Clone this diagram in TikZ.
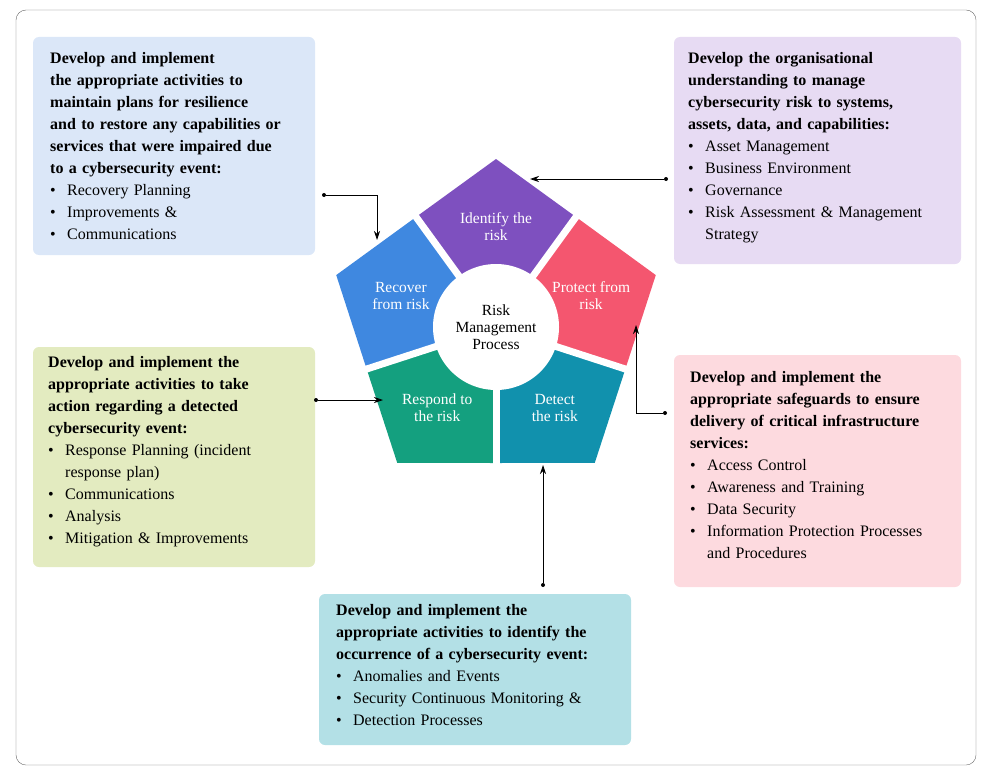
\documentclass[tikz,border=0pt]{standalone}
\usepackage{fontspec}
\setmainfont{Liberation Serif}
\usepackage{tikz}
\usetikzlibrary{calc,arrows.meta}
\definecolor{boxblue}{HTML}{DBE7F8}
\definecolor{boxpurple}{HTML}{E7DBF3}
\definecolor{boxgreen}{HTML}{E3EBC0}
\definecolor{boxpink}{HTML}{FDDADF}
\definecolor{boxcyan}{HTML}{B3E0E6}
\definecolor{identc}{HTML}{7E50BF}
\definecolor{protc}{HTML}{F4566F}
\definecolor{detc}{HTML}{1191AD}
\definecolor{respc}{HTML}{14A07F}
\definecolor{recc}{HTML}{3F88E0}
\tikzstyle{info}=[rounded corners=6pt, inner sep=0pt]
\tikzstyle{txt}=[anchor=north west, text width=#1, align=left, inner sep=0pt,
                 font=\fontsize{16}{22}\selectfont]
\tikzstyle{piece}=[text=white, align=center, font=\fontsize{15.5}{17}\selectfont]
\tikzstyle{line}=[draw, thick, -{Stealth[length=9pt,width=6pt]}]
\tikzstyle{dot}=[circle, fill, inner sep=0pt, minimum size=4pt]
\newcommand{\itm}[1]{\par\hangindent=17pt\hangafter=1\makebox[17pt][l]{\textbullet}#1\par}

\begin{document}
\begin{tikzpicture}[x=1pt, y=-1pt]
    \useasboundingbox (0,0) rectangle (995,773);
    \draw[rounded corners=10pt, gray!80!black] (16,10) rectangle (976,765);
    % info boxes
    \fill[info, boxblue]   (33,37)   rectangle (315,255);
    \fill[info, boxpurple] (674,37)  rectangle (961,264);
    \fill[info, boxgreen]  (33,347)  rectangle (315,567);
    \fill[info, boxpink]   (674,355) rectangle (961,587);
    \fill[info, boxcyan]   (319,594) rectangle (631,745);
    \node[txt=270pt] (rectxt) at (50,52) {\textbf{Develop and implement\\the appropriate activities to\\maintain plans for resilience\\and to restore any capabilities or\\services that were impaired due\\to a cybersecurity event:}
        \itm{Recovery Planning}\itm{Improvements \&}\itm{Communications}};
    \node[txt=270pt] (idtxt) at (688,52) {\textbf{Develop the organisational\\understanding to manage\\cybersecurity risk to systems,\\assets, data, and capabilities:}
        \itm{Asset Management}\itm{Business Environment}\itm{Governance}\itm{Risk Assessment \& Management\newline Strategy}};
    \node[txt=260pt] (restxt) at (48,356) {\textbf{Develop and implement the\\appropriate activities to take\\action regarding a detected\\cybersecurity event:}
        \itm{Response Planning (incident\newline response plan)}\itm{Communications}\itm{Analysis}\itm{Mitigation \& Improvements}};
    \node[txt=270pt] (prtxt) at (690,371) {\textbf{Develop and implement the\\appropriate safeguards to ensure\\delivery of critical infrastructure\\services:}
        \itm{Access Control}\itm{Awareness and Training}\itm{Data Security}\itm{Information Protection Processes\newline and Procedures}};
    \node[txt=295pt] (dettxt) at (336,604) {\textbf{Develop and implement the\\appropriate activities to identify the\\occurrence of a cybersecurity event:}
        \itm{Anomalies and Events}\itm{Security Continuous Monitoring \&}\itm{Detection Processes}};
    % pentagon pieces
    \coordinate (C) at (496,327);
    \foreach \a/\col/\lbl/\nm in {-90/identc/{Identify the\\risk}/ident, -18/protc/{Protect from\\risk}/prot,
        54/detc/{Detect\\the risk}/det, 126/respc/{Respond to\\the risk}/resp, 198/recc/{Recover\\from risk}/rec}{
      \fill[\col] (C) -- ($(C)+(\a-36:136)$) -- ($(C)+(\a:168)$) -- ($(C)+(\a+36:136)$) -- cycle;
      \node[piece] (\nm) at ($(C)+(\a:100)$) {\lbl};
    }
    \foreach \a in {-54,18,90,162,234}
      \draw[white, line width=7pt] (C) -- ($(C)+(\a:140)$);
    \node[circle, fill=white, minimum size=126pt, align=center,
          font=\fontsize{15.5}{17}\selectfont] (core) at (C) {Risk\\Management\\Process};
    % connectors
    \node[dot] (d1) at (324,195) {};
    \node[dot] (d2) at (666,179) {};
    \node[dot] (d3) at (316,400) {};
    \node[dot] (d4) at (665,413) {};
    \node[dot] (d5) at (543,585) {};
    \coordinate (t1) at (377,240);
    \coordinate (t2) at (530,179);
    \coordinate (t3) at (383,400);
    \coordinate (t4) at (636,325);
    \coordinate (t5) at (543,465);
    \path[line] (d1) -| (t1);
    \path[line] (d2) -- (t2);
    \path[line] (d3) -- (t3);
    \path[line] (d4) -| (t4);
    \path[line] (d5) -- (t5);
\end{tikzpicture}
\end{document}
